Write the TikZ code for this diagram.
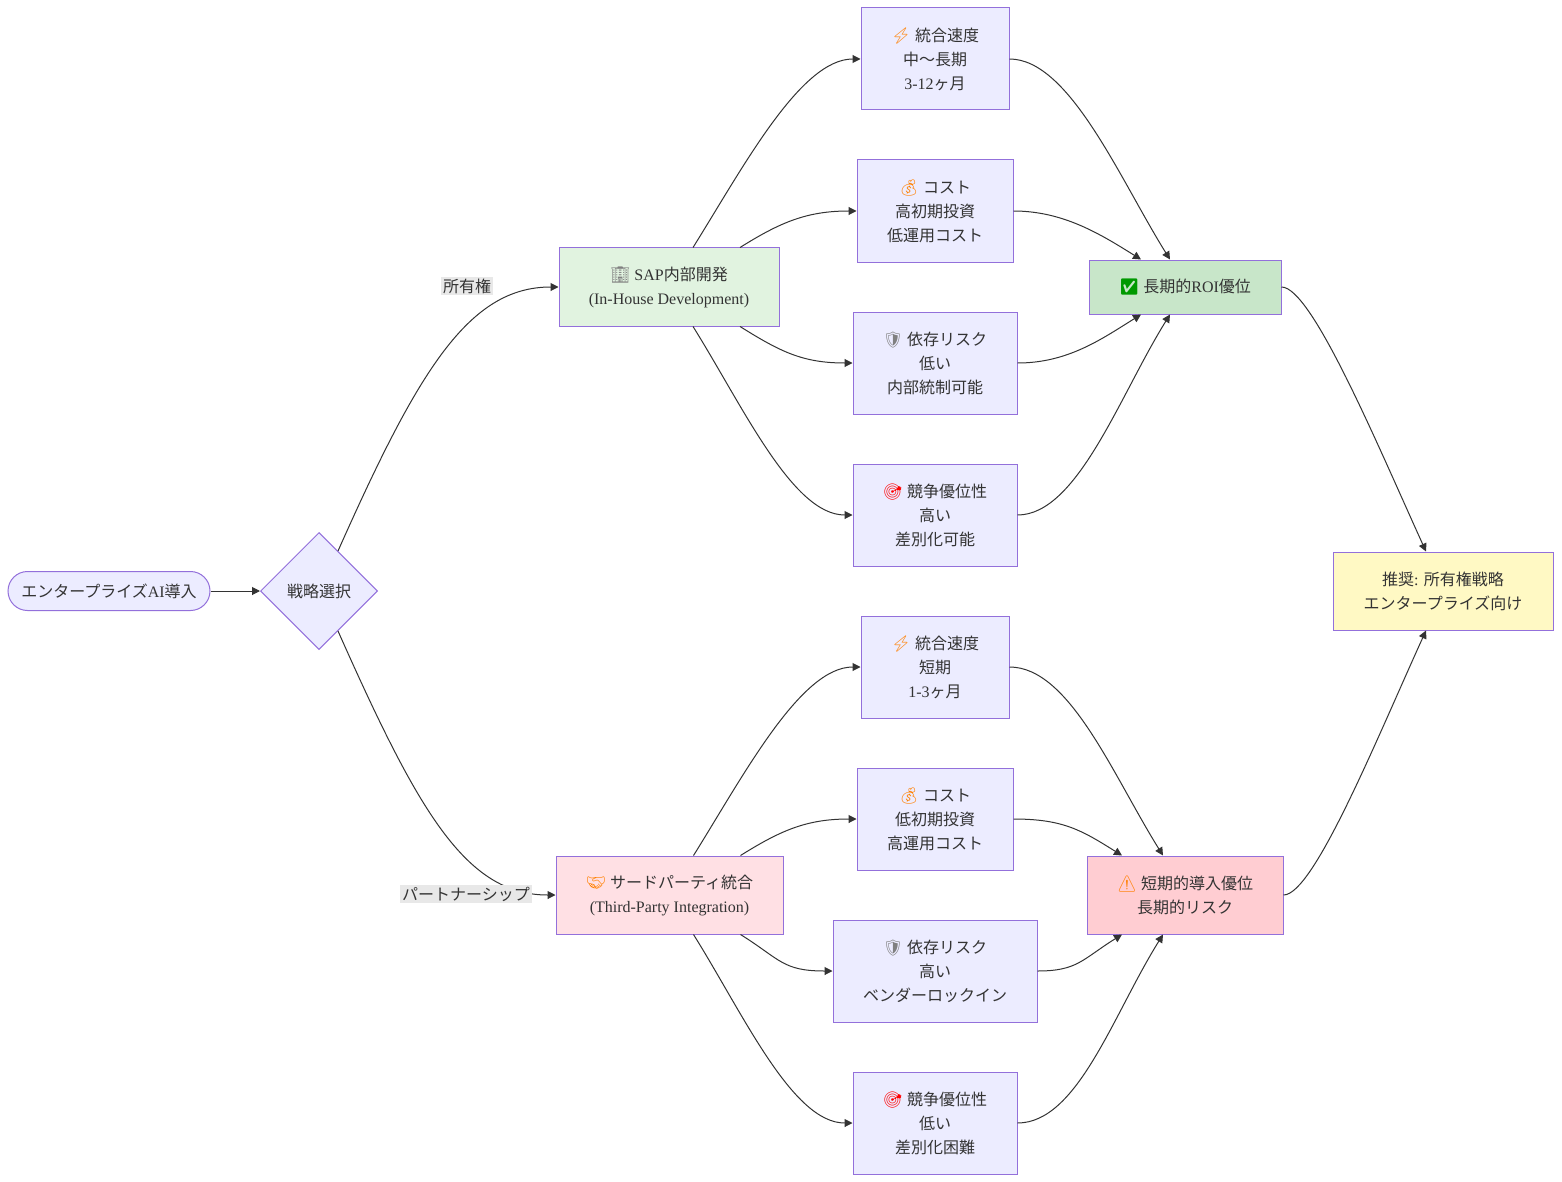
\documentclass[tikz,border=0pt]{standalone}
\usepackage{fontspec}
\setmainfont{Liberation Serif}
\newfontfamily\jpfont{Noto Sans CJK JP}
\newfontfamily\emofont{Noto Emoji}
\usetikzlibrary{shapes.geometric,arrows.meta}
\newcommand\jp[1]{{\jpfont #1}}
\newcommand\emo[2]{{\emofont\color{#1}#2}}
\definecolor{boxfill}{HTML}{ECECFF}
\definecolor{boxline}{HTML}{9370DB}
\definecolor{greenfill}{HTML}{E1F3E0}
\definecolor{pinkfill}{HTML}{FFE0E4}
\definecolor{roifill}{HTML}{C8E6C9}
\definecolor{warnfill}{HTML}{FFCDD2}
\definecolor{advfill}{HTML}{FFF9C4}
\definecolor{taggray}{HTML}{E8E8E8}
\definecolor{linkcol}{HTML}{333333}
\definecolor{txt}{HTML}{333333}
\begin{document}
\begin{tikzpicture}[x=0.5pt,y=-0.5pt,
  every node/.style={text=txt,font=\fontsize{8}{12}\selectfont,align=center},
  box/.style={draw=boxline,fill=boxfill,line width=0.5pt,inner sep=0pt},
  link/.style={draw=linkcol,line width=0.5pt,-{Triangle[length=4pt,width=4pt]}},
  tag/.style={fill=taggray,inner sep=1pt}]
\useasboundingbox (0,0) rectangle (1562,1182);
\node[box,rounded corners=9.75pt,minimum width=101pt,minimum height=19.5pt](start) at (109,591){\jp{エンタープライズ}AI\jp{導入}};
\node[box,diamond,aspect=1,minimum size=58.5pt](choice) at (319,591){\jp{戦略選択}};
\node[box,fill=greenfill,minimum width=110pt,minimum height=39pt](inhouse) at (669,287){\emo{gray}{🏢} SAP\jp{内部開発}\\(In-House Development)};
\node[box,fill=pinkfill,minimum width=113.5pt,minimum height=39pt](thirdp) at (669.5,895){\emo{orange}{🤝} \jp{サードパーティ統合}\\(Third-Party Integration)};
% own path
\node[box,minimum width=74pt,minimum height=51pt](speedA) at (935,59){\emo{orange}{⚡} \jp{統合速度}\\\jp{中〜長期}\\3-12\jp{ヶ月}};
\node[box,minimum width=78pt,minimum height=51pt](costA) at (935,211){\emo{orange}{💰} \jp{コスト}\\\jp{高初期投資}\\\jp{低運用コスト}};
\node[box,minimum width=82pt,minimum height=51pt](riskA) at (935,363){\emo{gray}{🛡} \jp{依存リスク}\\\jp{低い}\\\jp{内部統制可能}};
\node[box,minimum width=82pt,minimum height=51pt](compA) at (935,515){\emo{red}{🎯} \jp{競争優位性}\\\jp{高い}\\\jp{差別化可能}};
% partner path
\node[box,minimum width=74pt,minimum height=51pt](speedB) at (935,667){\emo{orange}{⚡} \jp{統合速度}\\\jp{短期}\\1-3\jp{ヶ月}};
\node[box,minimum width=78pt,minimum height=51pt](costB) at (935,819){\emo{orange}{💰} \jp{コスト}\\\jp{低初期投資}\\\jp{高運用コスト}};
\node[box,minimum width=102pt,minimum height=51pt](riskB) at (935,971){\emo{gray}{🛡} \jp{依存リスク}\\\jp{高い}\\\jp{ベンダーロックイン}};
\node[box,minimum width=82pt,minimum height=51pt](compB) at (935,1123){\emo{red}{🎯} \jp{競争優位性}\\\jp{低い}\\\jp{差別化困難}};
\node[box,fill=roifill,minimum width=96pt,minimum height=27pt](roi) at (1185,287){\emo{green!60!black}{✅} \jp{長期的}ROI\jp{優位}};
\node[box,fill=warnfill,minimum width=98pt,minimum height=39pt](shortrisk) at (1185,895){\emo{orange}{⚠} \jp{短期的導入優位}\\\jp{長期的リスク}};
\node[box,fill=advfill,minimum width=110pt,minimum height=39pt](advice) at (1443,591){\jp{推奨}: \jp{所有権戦略}\\\jp{エンタープライズ向け}};
% links
\draw[link] (start.east) -- (choice.west);
\draw[link] ([xshift=9.5pt,yshift=-9.5pt]choice.north) .. controls +(80,-180) and +(-90,0) .. (inhouse.west);
\draw[link] ([xshift=9.5pt,yshift=9.5pt]choice.south) .. controls +(80,180) and +(-90,0) .. (thirdp.west);
\draw[link] ([xshift=12pt]inhouse.north) .. controls +(50,-80) and +(-60,0) .. (speedA.west);
\draw[link] ([xshift=35.5pt]inhouse.north) .. controls +(40,-25) and +(-50,0) .. (costA.west);
\draw[link] ([xshift=35.5pt]inhouse.south) .. controls +(40,25) and +(-50,0) .. (riskA.west);
\draw[link] ([xshift=12pt]inhouse.south) .. controls +(50,80) and +(-60,0) .. (compA.west);
\draw[link] (speedA.east) .. controls +(60,0) and +(-50,-80) .. ([xshift=-7.5pt]roi.north);
\draw[link] (costA.east) .. controls +(50,0) and +(-40,-25) .. ([xshift=-22pt]roi.north);
\draw[link] (riskA.east) .. controls +(50,0) and +(-40,25) .. ([xshift=-22pt]roi.south);
\draw[link] (compA.east) .. controls +(60,0) and +(-50,80) .. ([xshift=-7.5pt]roi.south);
\draw[link] ([xshift=12pt]thirdp.north) .. controls +(50,-80) and +(-60,0) .. (speedB.west);
\draw[link] ([xshift=35.5pt]thirdp.north) .. controls +(40,-25) and +(-50,0) .. (costB.west);
\draw[link] ([xshift=35.5pt]thirdp.south) .. controls +(40,25) and +(-50,0) .. (riskB.west);
\draw[link] ([xshift=12pt]thirdp.south) .. controls +(50,80) and +(-60,0) .. (compB.west);
\draw[link] (speedB.east) .. controls +(60,0) and +(-50,-80) .. ([xshift=-11pt]shortrisk.north);
\draw[link] (costB.east) .. controls +(50,0) and +(-40,-25) .. ([xshift=-31.5pt]shortrisk.north);
\draw[link] (riskB.east) .. controls +(40,0) and +(-40,25) .. ([xshift=-31.5pt]shortrisk.south);
\draw[link] (compB.east) .. controls +(60,0) and +(-50,80) .. ([xshift=-11pt]shortrisk.south);
\draw[link] (roi.east) .. controls +(30,0) and +(-50,-110) .. ([xshift=-8.5pt]advice.north);
\draw[link] (shortrisk.east) .. controls +(30,0) and +(-50,110) .. ([xshift=-8.5pt]advice.south);
% edge labels
\node[tag](ownlbl) at (467,286){\jp{所有権}};
\node[tag](partlbl) at (466,894){\jp{パートナーシップ}};
\end{tikzpicture}
\end{document}
